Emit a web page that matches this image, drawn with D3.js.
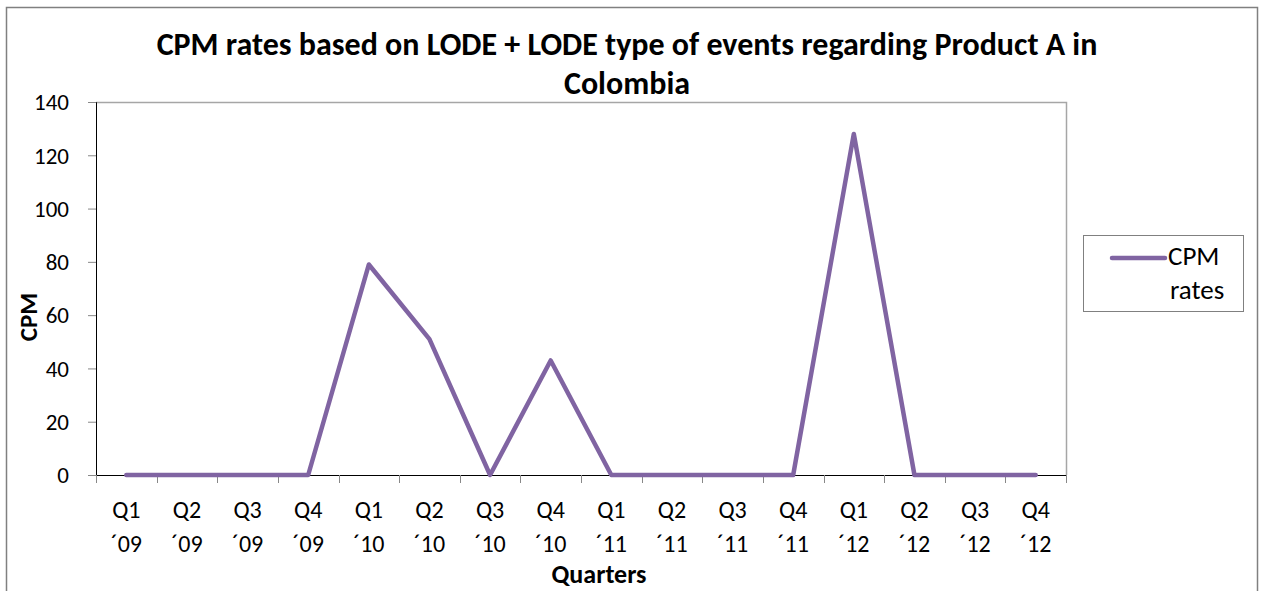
<!DOCTYPE html>
<html>
<head>
<meta charset="utf-8">
<script src="https://cdn.jsdelivr.net/npm/d3@7"></script>
<style>
  html, body { margin: 0; padding: 0; background: #fff; }
  svg text { font-family: Carlito, Calibri, Lato, "Open Sans", sans-serif; fill: #000; }
</style>
</head>
<body>
<svg id="chart" width="1262" height="591"></svg>
<script>
// Quarter labels (two lines each) and CPM values
const quarters = ["Q1", "Q2", "Q3", "Q4", "Q1", "Q2", "Q3", "Q4", "Q1", "Q2", "Q3", "Q4", "Q1", "Q2", "Q3", "Q4"];
const years = ["´09", "´09", "´09", "´09", "´10", "´10", "´10", "´10", "´11", "´11", "´11", "´11", "´12", "´12", "´12", "´12"];
const cpmRates = [0, 0, 0, 0, 79, 51, 0, 43, 0, 0, 0, 0, 128, 0, 0, 0];
const yTicks = [0, 20, 40, 60, 80, 100, 120, 140];

const titleLines = ["CPM rates based on LODE + LODE type of events regarding Product A in", "Colombia"];
const seriesName = ["CPM", "rates"];

const svg = d3.select("#chart");
const plot = { left: 96, right: 1066, top: 102, bottom: 475 };

// outer chart frame
svg.append("rect")
  .attr("x", 6.5).attr("y", 7.5).attr("width", 1251).attr("height", 600)
  .attr("fill", "none").attr("stroke", "#808080").attr("stroke-width", 1.5);

const idx = d3.range(cpmRates.length);
const x = d3.scaleBand().domain(idx).range([plot.left, plot.right]).paddingInner(0).paddingOuter(0);
const y = d3.scaleLinear().domain([0, 140]).range([plot.bottom, plot.top]);

// plot area top/right border
svg.append("path")
  .attr("d", `M${plot.left},${plot.top + 0.5}H${plot.right + 0.5}V${plot.bottom}`)
  .attr("fill", "none").attr("stroke", "#a6a6a6").attr("stroke-width", 1.5);

// y axis
const yAxis = d3.axisLeft(y).tickValues(yTicks).tickSize(8).tickPadding(12);
const gy = svg.append("g").attr("transform", `translate(${plot.left},0)`).call(yAxis);
gy.select(".domain").attr("stroke", "#000").attr("stroke-width", 1);
gy.selectAll(".tick line").attr("stroke", "#888");
gy.selectAll(".tick text").attr("font-size", 23).attr("dy", "0.34em").attr("x", -27);

// x axis: ticks at category boundaries
const boundaries = d3.range(cpmRates.length + 1).map(i => plot.left + i * x.bandwidth());
const gx = svg.append("g");
gx.append("line")
  .attr("x1", plot.left).attr("x2", plot.right)
  .attr("y1", plot.bottom + 0.5).attr("y2", plot.bottom + 0.5)
  .attr("stroke", "#000").attr("stroke-width", 1);
gx.selectAll("line.tk").data(boundaries).join("line")
  .attr("class", "tk")
  .attr("x1", d => Math.round(d) + 0.5).attr("x2", d => Math.round(d) + 0.5)
  .attr("y1", plot.bottom).attr("y2", plot.bottom + 8)
  .attr("stroke", "#888");
const xl = gx.selectAll("text.xl").data(idx).join("text")
  .attr("class", "xl")
  .attr("text-anchor", "middle")
  .attr("font-size", 24)
  .attr("x", d => x(d) + x.bandwidth() / 2);
xl.append("tspan").attr("x", d => x(d) + x.bandwidth() / 2).attr("y", 518).text(d => quarters[d]);
xl.append("tspan").attr("x", d => x(d) + x.bandwidth() / 2).attr("y", 552).text(d => years[d]);

// line series
const line = d3.line()
  .x((d, i) => x(i) + x.bandwidth() / 2)
  .y(d => y(d));
svg.append("path")
  .datum(cpmRates)
  .attr("d", line)
  .attr("fill", "none")
  .attr("stroke", "#8064A2")
  .attr("stroke-width", 4.5)
  .attr("stroke-linejoin", "round")
  .attr("stroke-linecap", "round");

// title
svg.append("text")
  .attr("text-anchor", "middle").attr("font-weight", "bold").attr("font-size", 32)
  .selectAll("tspan").data(titleLines).join("tspan")
  .attr("x", 627).attr("y", (d, i) => 55 + i * 39).text(d => d);

// axis titles
svg.append("text")
  .attr("text-anchor", "middle").attr("font-weight", "bold").attr("font-size", 26)
  .attr("x", 599).attr("y", 583).text("Quarters");
svg.append("text")
  .attr("text-anchor", "middle").attr("font-weight", "bold").attr("font-size", 25)
  .attr("transform", "translate(37,317) rotate(-90)").text("CPM");

// legend
const lg = svg.append("g");
lg.append("rect")
  .attr("x", 1083.5).attr("y", 235.5).attr("width", 160).attr("height", 76)
  .attr("fill", "#fff").attr("stroke", "#808080").attr("stroke-width", 1);
lg.append("line")
  .attr("x1", 1112).attr("x2", 1165).attr("y1", 258).attr("y2", 258)
  .attr("stroke", "#8064A2").attr("stroke-width", 4.5).attr("stroke-linecap", "round");
lg.append("text").attr("font-size", 27)
  .selectAll("tspan").data(seriesName).join("tspan")
  .attr("x", (d, i) => i === 0 ? 1168 : 1170)
  .attr("y", (d, i) => 265 + i * 34).text(d => d);
</script>
</body>
</html>
